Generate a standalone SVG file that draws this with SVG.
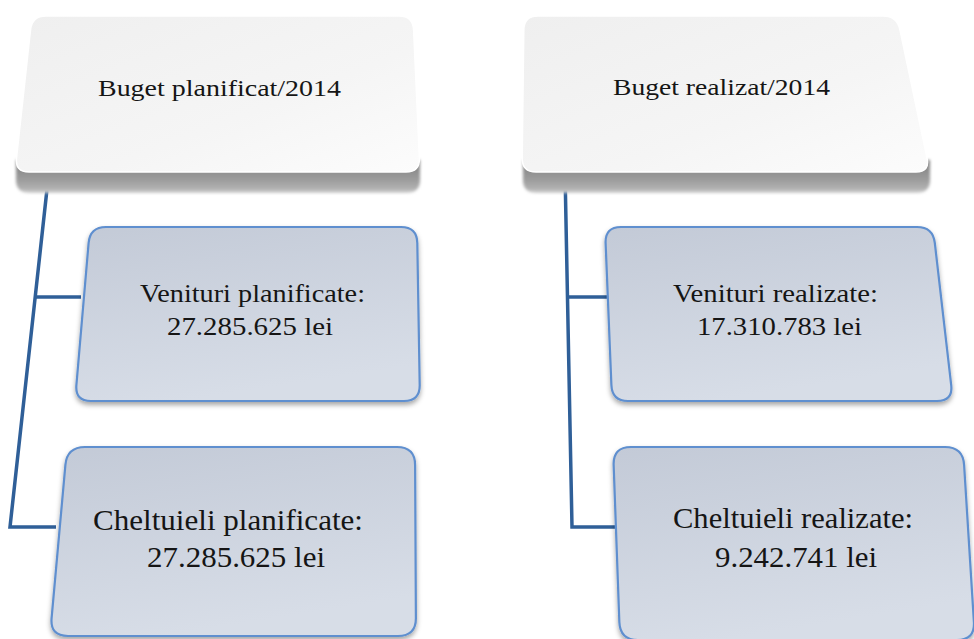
<svg xmlns="http://www.w3.org/2000/svg" width="974" height="639" viewBox="0 0 974 639">
  <defs>
    <linearGradient id="topFill" x1="0" y1="0" x2="1" y2="1">
      <stop offset="0" stop-color="#efefef"/>
      <stop offset="0.6" stop-color="#f5f5f5"/>
      <stop offset="1" stop-color="#fcfcfc"/>
    </linearGradient>
    <linearGradient id="shadowFill" x1="0" y1="0" x2="0" y2="1">
      <stop offset="0" stop-color="#7e7e7e"/>
      <stop offset="0.6" stop-color="#9c9c9c"/>
      <stop offset="0.88" stop-color="#b2b2b2"/>
      <stop offset="1" stop-color="#d4d4d4"/>
    </linearGradient>
    <linearGradient id="childFill" x1="0" y1="0" x2="0.3" y2="1">
      <stop offset="0" stop-color="#c3cad7"/>
      <stop offset="1" stop-color="#d7dde7"/>
    </linearGradient>
    <filter id="blur" x="-10%" y="-50%" width="120%" height="200%">
      <feGaussianBlur stdDeviation="1.4"/>
    </filter>
    <filter id="drop" x="-10%" y="-10%" width="120%" height="125%">
      <feDropShadow dx="0" dy="3" stdDeviation="2.5" flood-color="#000" flood-opacity="0.35"/>
    </filter>
  </defs>
  <style>
    .top { fill: url(#topFill); stroke: #ffffff; stroke-width: 1.5; }
    .shadow { fill: url(#shadowFill); filter: url(#blur); }
    .child { fill: url(#childFill); stroke: #5f8fcf; stroke-width: 2.2; filter: url(#drop); }
    .conn { fill: none; stroke: #2f5f98; stroke-width: 3.5; stroke-linejoin: miter; }
    text { font-family: "Liberation Serif", "Times New Roman", serif; fill: #151515; text-anchor: middle; }
  </style>

  <g id="connectors">
    <polyline class="conn" points="49,171 10,527 56,527"/>
    <line class="conn" x1="35" y1="297" x2="81" y2="297"/>
    <polyline class="conn" points="565,171 572,527 617,527"/>
    <line class="conn" x1="567.5" y1="297" x2="609" y2="297"/>
  </g>

  <g id="node-buget-planificat">
    <path class="shadow" d="M 16,160 L 420,160 L 420,180 Q 420,193 406,193 L 30,193 Q 16,193 16,180 Z"/>
    <path class="top" d="M 46,16 L 399,16 Q 413,16 413.6,30 L 419.4,158 Q 420,172 406,172 L 29,172 Q 15,172 16.5,158.1 L 30.5,29.9 Q 32,16 46,16 Z"/>
    <text x="219.5" y="96" font-size="23" font-family="Liberation Serif, serif" textLength="243" lengthAdjust="spacingAndGlyphs">Buget planificat/2014</text>
  </g>

  <g id="node-buget-realizat">
    <path class="shadow" d="M 523,160 L 930,160 L 930,180 Q 930,193 916,193 L 537,193 Q 523,193 523,180 Z"/>
    <path class="top" d="M 538,16 L 883,16 Q 897,16 899.9,29.7 L 927.1,158.3 Q 930,172 916,172 L 536,172 Q 522,172 522.2,158 L 523.8,30 Q 524,16 538,16 Z"/>
    <text x="721.5" y="95" font-size="23" font-family="Liberation Serif, serif" textLength="217" lengthAdjust="spacingAndGlyphs">Buget realizat/2014</text>
  </g>

  <g id="node-venituri-planificate">
    <path class="child" d="M 106,227 L 401,227 Q 417,227 417.3,243 L 419.7,385 Q 420,401 404,401 L 91,401 Q 75,401 76.4,385 L 88.6,243 Q 90,227 106,227 Z"/>
    <text x="252.5" y="302" font-size="26" font-family="Liberation Serif, serif" textLength="225" lengthAdjust="spacingAndGlyphs">Venituri planificate:</text>
    <text x="250" y="335" font-size="26" font-family="Liberation Serif, serif" textLength="166" lengthAdjust="spacingAndGlyphs">27.285.625 lei</text>
  </g>

  <g id="node-cheltuieli-planificate">
    <path class="child" d="M 85,447 L 397,447 Q 415,447 415.1,465 L 415.9,618 Q 416,636 398,636 L 68,636 Q 50,636 51.6,618.1 L 65.4,464.9 Q 67,447 85,447 Z"/>
    <text x="228" y="530" font-size="30" font-family="Liberation Serif, serif" textLength="270" lengthAdjust="spacingAndGlyphs">Cheltuieli planificate:</text>
    <text x="236" y="567" font-size="30" font-family="Liberation Serif, serif" textLength="178" lengthAdjust="spacingAndGlyphs">27.285.625 lei</text>
  </g>

  <g id="node-venituri-realizate">
    <path class="child" d="M 621,227 L 917,227 Q 933,227 934.8,242.9 L 951.2,385.1 Q 953,401 937,401 L 628,401 Q 612,401 611.4,385 L 605.6,243 Q 605,227 621,227 Z"/>
    <text x="775.5" y="302" font-size="26" font-family="Liberation Serif, serif" textLength="205" lengthAdjust="spacingAndGlyphs">Venituri realizate:</text>
    <text x="779.5" y="335" font-size="26" font-family="Liberation Serif, serif" textLength="165" lengthAdjust="spacingAndGlyphs">17.310.783 lei</text>
  </g>

  <g id="node-cheltuieli-realizate">
    <path class="child" d="M 631,447 L 945,447 Q 963,447 964.1,465 L 973.9,622 Q 975,640 957,640 L 638,640 Q 620,640 619.35,622 L 613.65,465 Q 613,447 631,447 Z"/>
    <text x="793" y="528" font-size="30" font-family="Liberation Serif, serif" textLength="240" lengthAdjust="spacingAndGlyphs">Cheltuieli realizate:</text>
    <text x="796" y="567" font-size="30" font-family="Liberation Serif, serif" textLength="162" lengthAdjust="spacingAndGlyphs">9.242.741 lei</text>
  </g>
</svg>
